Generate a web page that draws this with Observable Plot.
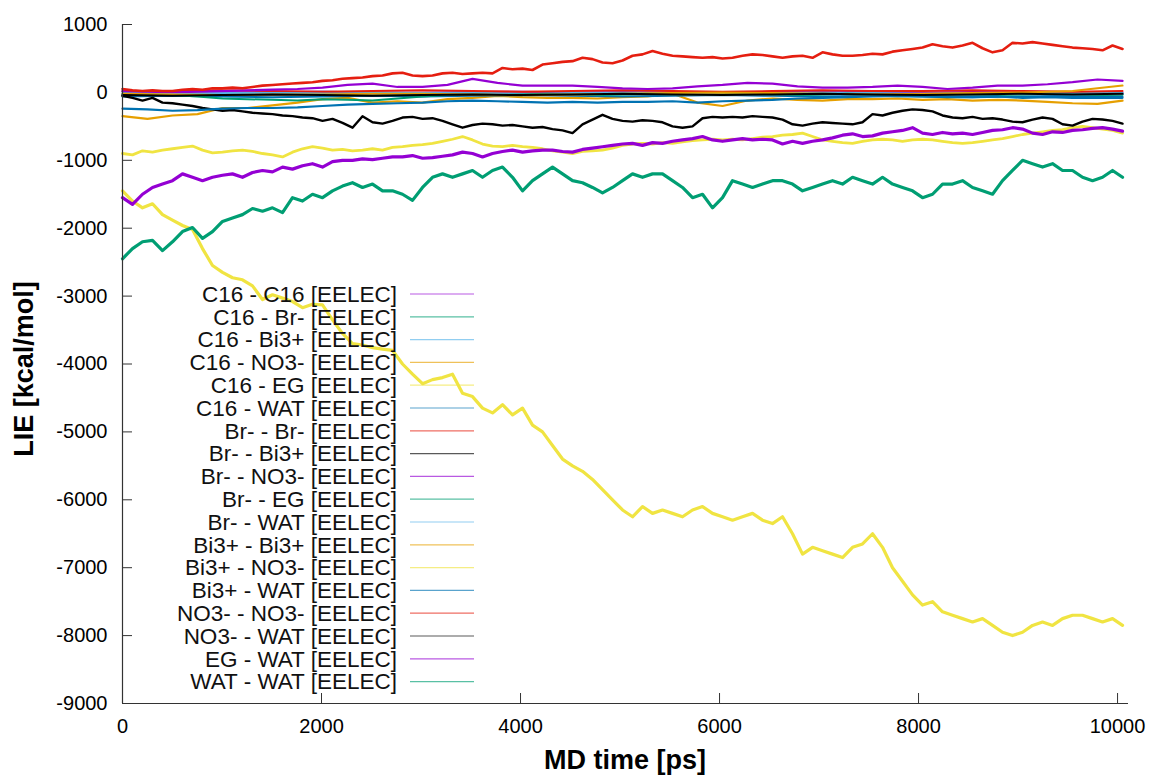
<!DOCTYPE html>
<html><head><meta charset="utf-8">
<script src="https://cdn.jsdelivr.net/npm/d3@7"></script>
<script src="https://cdn.jsdelivr.net/npm/@observablehq/plot@0.6"></script>
<style>body{margin:0;background:#fff;} svg{display:block;}</style>
</head><body><div id="chart"></div>
<script>
// ---- data (LIE [kcal/mol] vs MD time [ps]) ----
const tEnd = 10050;
const xTicks = [0, 2000, 4000, 6000, 8000, 10000];
const yTicks = [1000, 0, -1000, -2000, -3000, -4000, -5000, -6000, -7000, -8000, -9000];
const names = ["C16 - C16 [EELEC]","C16 - Br- [EELEC]","C16 - Bi3+ [EELEC]","C16 - NO3- [EELEC]","C16 - EG [EELEC]","C16 - WAT [EELEC]","Br- - Br- [EELEC]","Br- - Bi3+ [EELEC]","Br- - NO3- [EELEC]","Br- - EG [EELEC]","Br- - WAT [EELEC]","Bi3+ - Bi3+ [EELEC]","Bi3+ - NO3- [EELEC]","Bi3+ - WAT [EELEC]","NO3- - NO3- [EELEC]","NO3- - WAT [EELEC]","EG - WAT [EELEC]","WAT - WAT [EELEC]"];
const colors = ["#9400d3","#009e73","#56b4e9","#e69f00","#f0e442","#0072b2","#e51e10","#000000"];
const widths = [2,2,2,2.2,2.8,2,2,2.4,2.2,2,2,2,3.2,2.2,2.6,2,3.2,3.2];

const c16_c16 = [10,5,0,5,10,0,-5,5,10,0,5,0,-5,5,10,5,0,5,10,5,0];
const c16_br = [-30,-40,-30,-20,-30,-40,-30,-20,-30,-30,-20,-30,-40,-30,-20,-30,-40,-30,-20,-30,-30];
const c16_bi = [10,0,-10,0,10,0,-10,0,-20,-10,0,-10,-20,-10,0,-10,-20,-10,0,-10,-10];
const c16_no3 = [-350,-390,-340,-320,-230,-230,-190,-150,-100,-80,-150,-130,-150,-100,-80,-50,-70,-80,-80,-90,-70,-60,-20,-150,-200,-120,-90,-110,-120,-100,-100,-90,-110,-100,-120,-110,-120,-140,-160,-170,-120];
const c16_eg = [-900,-920,-860,-880,-850,-830,-810,-790,-850,-890,-880,-860,-850,-870,-900,-920,-950,-880,-830,-800,-820,-850,-840,-860,-850,-830,-850,-810,-800,-780,-770,-750,-720,-690,-650,-700,-760,-790,-800,-780,-800,-810,-830,-860,-880,-900,-870,-860,-850,-820,-780,-760,-750,-760,-740,-750,-730,-710,-700,-690,-700,-690,-700,-680,-660,-650,-630,-620,-600,-650,-700,-720,-740,-750,-720,-700,-690,-700,-720,-700,-690,-700,-720,-740,-750,-740,-720,-700,-680,-650,-620,-600,-580,-560,-550,-520,-500,-520,-540,-560,-600];
const c16_wat = [-60,-50,-60,-70,-60,-50,-60,-50,-40,-50,-60,-50,-40,-50,-60,-50,-60,-70,-60,-50,-60];
const br_br = [20,20,30,20,10,20,30,20,10,20,30,20,10,20,30,20,20,30,20,10,20];
const br_bi = [-50,-80,-120,-80,-150,-160,-180,-200,-230,-250,-270,-260,-280,-300,-310,-320,-340,-350,-370,-380,-420,-390,-450,-520,-350,-440,-460,-420,-370,-360,-390,-380,-420,-470,-520,-480,-460,-470,-490,-480,-500,-520,-510,-540,-560,-600,-470,-400,-330,-390,-420,-430,-410,-420,-440,-500,-520,-500,-380,-360,-370,-360,-370,-350,-360,-370,-400,-470,-490,-460,-440,-450,-460,-470,-440,-320,-340,-300,-270,-250,-260,-280,-340,-370,-380,-360,-390,-380,-400,-430,-440,-400,-370,-390,-470,-490,-430,-390,-400,-420,-460];
const br_no3 = [20,10,0,10,20,30,40,50,70,110,130,80,80,110,200,140,100,100,100,80,60,50,60,90,110,140,130,90,70,70,80,100,80,50,70,100,100,120,150,190,170];
const br_eg = [-20,-30,-40,-60,-90,-100,-110,-120,-100,-110,-120,-90,-60,-40,-30,-40,-30,-20,-30,-40,-30,-20,-30,-40,-30,-20,-30,-40,-30,-20,-30,-40,-30,-20,-30,-40,-30,-20,-30,-40,-30];
const br_wat = [-20,-30,-20,-10,-20,-30,-20,-30,-40,-30,-20,-30,-40,-30,-20,-30,-40,-30,-20,-30,-20];
const bi_bi = [-20,-30,-40,-30,-30,-20,-20,-30,-40,-30,-20,-10,0,-10,-20,-30,-20,-10,0,20,100];
const bi_no3 = [-1450,-1600,-1700,-1640,-1800,-1880,-1960,-2020,-2300,-2550,-2650,-2730,-2760,-2850,-3050,-2980,-3030,-3080,-3170,-3120,-3130,-3350,-3550,-3700,-3720,-3760,-3780,-3800,-4000,-4150,-4290,-4230,-4200,-4150,-4430,-4480,-4650,-4720,-4600,-4750,-4650,-4900,-5000,-5200,-5400,-5500,-5580,-5700,-5850,-6000,-6150,-6250,-6100,-6200,-6150,-6200,-6250,-6150,-6100,-6200,-6250,-6300,-6250,-6200,-6300,-6350,-6250,-6500,-6800,-6700,-6750,-6800,-6850,-6700,-6650,-6500,-6700,-7000,-7200,-7400,-7550,-7500,-7650,-7700,-7750,-7800,-7750,-7850,-7950,-8000,-7950,-7850,-7800,-7850,-7750,-7700,-7700,-7750,-7800,-7750,-7850];
const bi_wat = [-240,-250,-270,-260,-240,-230,-230,-220,-200,-180,-170,-160,-150,-130,-120,-130,-140,-150,-140,-150,-140,-140,-130,-150,-130,-120,-110,-90,-80,-70,-60,-50,-60,-70,-70,-60,-80,-70,-80,-80,-80];
const no3_no3 = [50,30,20,30,20,20,40,50,40,60,60,70,60,80,100,110,120,130,140,150,170,180,200,210,220,240,250,280,290,250,240,250,280,290,270,280,290,280,360,340,350,330,410,430,450,460,510,490,440,430,470,540,560,610,570,540,530,520,510,520,500,510,540,560,550,530,510,530,540,510,590,560,540,540,550,570,560,600,620,640,660,710,680,660,690,730,650,590,620,730,720,740,720,700,680,660,650,640,620,690,640];
const no3_wat = [-40,-50,-40,-30,-40,-50,-40,-30,-40,-30,-20,-30,-40,-30,-20,-30,-40,-30,-20,-30,-20];
const eg_wat = [-1550,-1650,-1500,-1400,-1350,-1300,-1200,-1250,-1300,-1250,-1220,-1200,-1250,-1180,-1150,-1170,-1100,-1130,-1080,-1050,-1100,-1020,-1000,-1000,-980,-990,-970,-950,-950,-930,-970,-960,-940,-920,-880,-900,-950,-900,-870,-850,-880,-860,-850,-850,-870,-880,-840,-820,-800,-780,-760,-750,-780,-740,-750,-720,-700,-680,-650,-700,-720,-700,-680,-700,-690,-700,-760,-720,-750,-720,-700,-670,-630,-610,-650,-640,-600,-580,-560,-520,-600,-620,-590,-610,-600,-620,-590,-560,-550,-520,-540,-600,-620,-580,-590,-560,-550,-530,-520,-540,-570];
const wat_wat = [-2450,-2300,-2200,-2180,-2330,-2200,-2050,-1990,-2150,-2050,-1900,-1850,-1800,-1710,-1750,-1700,-1770,-1550,-1600,-1500,-1550,-1450,-1380,-1330,-1400,-1350,-1450,-1450,-1500,-1590,-1400,-1250,-1200,-1250,-1200,-1150,-1250,-1150,-1100,-1250,-1450,-1300,-1200,-1100,-1200,-1300,-1330,-1400,-1480,-1400,-1300,-1200,-1250,-1200,-1200,-1300,-1400,-1550,-1500,-1700,-1550,-1300,-1350,-1400,-1350,-1300,-1300,-1350,-1450,-1400,-1350,-1300,-1350,-1250,-1300,-1350,-1250,-1350,-1400,-1450,-1550,-1500,-1350,-1350,-1300,-1400,-1450,-1500,-1300,-1150,-1000,-1050,-1100,-1050,-1150,-1150,-1250,-1300,-1250,-1150,-1250];

const seriesValues = [c16_c16,c16_br,c16_bi,c16_no3,c16_eg,c16_wat,br_br,br_bi,br_no3,br_eg,br_wat,bi_bi,bi_no3,bi_wat,no3_no3,no3_wat,eg_wat,wat_wat];

// ---- table ----
const rows = [];
seriesValues.forEach((vals, k) => {
  const n = vals.length;
  vals.forEach((v, i) => rows.push({k, t: i * tEnd / (n - 1), v}));
});

const W = 1157, H = 776;
const mL = 122, mR = 29, mT = 24, mB = 73;
const FONT = "'Liberation Sans', Arial, sans-serif";

const lineMarks = seriesValues.map((_, k) =>
  Plot.line(rows.filter(r => r.k === k), {x: "t", y: "v", stroke: colors[k % 8], strokeWidth: widths[k], strokeLinejoin: "round"})
);

const fmt = d => String(d);
const chart = Plot.plot({
  width: W, height: H,
  marginLeft: mL, marginRight: mR, marginTop: mT, marginBottom: mB,
  style: {fontFamily: FONT, fontSize: "20px", color: "#000", background: "#fff", overflow: "visible"},
  x: {domain: [0, 10110]},
  y: {domain: [-9000, 1000]},
  marks: [
    Plot.axisY(yTicks, {tickSize: -10, tickPadding: 25, fontSize: 20, label: null, stroke: "#333", color: "#000", tickFormat: fmt}),
    Plot.axisX(xTicks, {tickSize: -10, tickPadding: 25, fontSize: 20, label: null, stroke: "#333", color: "#000", tickFormat: fmt}),
    ...lineMarks,
    Plot.ruleX([0], {stroke: "#333", strokeWidth: 1.2}),
    Plot.ruleY([-9000], {stroke: "#333", strokeWidth: 1.2})
  ]
});
document.getElementById("chart").appendChild(chart);

// ---- axis titles and key ----
const svg = d3.select(chart);
svg.append("text").attr("x", (mL + W - mR) / 2).attr("y", 769)
  .attr("text-anchor", "middle").attr("font-family", FONT).attr("font-weight", "bold")
  .attr("font-size", 27).attr("fill", "#000").text("MD time [ps]");
svg.append("text").attr("transform", `translate(33,369) rotate(-90)`)
  .attr("text-anchor", "middle").attr("font-family", FONT).attr("font-weight", "bold")
  .attr("font-size", 27).attr("fill", "#000").text("LIE [kcal/mol]");

const keyTop = 294, keyStep = 22.8, keyTextRight = 397, keyLine0 = 410, keyLine1 = 474;
const key = svg.append("g");
names.forEach((name, k) => {
  const yy = keyTop + k * keyStep;
  key.append("text").attr("x", keyTextRight).attr("y", yy).attr("dy", "0.35em")
    .attr("text-anchor", "end").attr("font-family", FONT).attr("font-size", 22.5).attr("fill", "#111").text(name);
  key.append("line").attr("x1", keyLine0).attr("x2", keyLine1).attr("y1", yy).attr("y2", yy)
    .attr("stroke", colors[k % 8]).attr("stroke-width", 1.2).attr("stroke-opacity", 0.65);
});
</script></body></html>
